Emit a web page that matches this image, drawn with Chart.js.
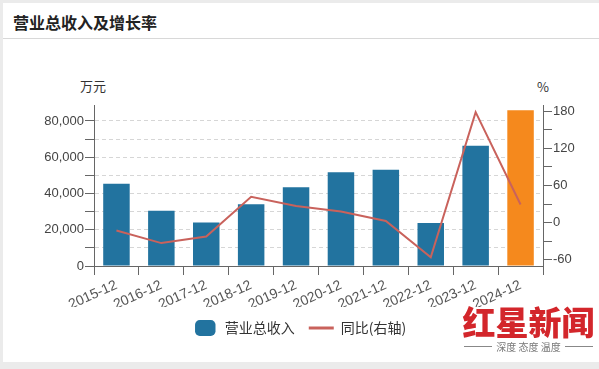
<!DOCTYPE html>
<html><head><meta charset="utf-8">
<script src="https://cdn.jsdelivr.net/npm/chart.js@4"></script>
<style>
html,body{margin:0;padding:0;}
body{width:599px;height:369px;background:#ebebeb;position:relative;overflow:hidden;font-family:"Liberation Sans","Noto Sans CJK SC",sans-serif;}
#card{position:absolute;left:3px;top:3px;width:596px;height:359px;background:#fff;}
#title{position:absolute;left:0;top:0;width:596px;height:35px;border-bottom:1px solid #d8d8d8;}
#title span{position:absolute;left:10px;top:7px;font:bold 16px "Noto Sans CJK SC",sans-serif;color:#222;}
#c{position:absolute;left:0;top:0;}
.unit{position:absolute;font:13px "Noto Sans CJK SC",sans-serif;color:#333;}
#wm{position:absolute;left:460px;top:300px;width:137px;}
#wm .big{font:900 33px "Noto Sans CJK SC",sans-serif;color:#d3262b;letter-spacing:0px;line-height:42px;text-align:center;}
#wm .sub{display:flex;align-items:center;font:10px "Noto Sans CJK SC",sans-serif;color:#777;margin-top:-3px;}
#wm .sub i{flex:1;height:1px;background:#888;margin:0 4px;}
</style></head>
<body>
<div id="card"><div id="title"><span>营业总收入及增长率</span></div></div>
<div class="unit" style="left:80px;top:76px;">万元</div>
<div class="unit" style="left:537px;top:77px;">%</div>
<canvas id="c" width="599" height="369"></canvas>
<div id="wm"><div class="big">红星新闻</div><div class="sub"><i></i>深度 态度 温度<i></i></div></div>
<script>
const categories = ["2015-12","2016-12","2017-12","2018-12","2019-12","2020-12","2021-12","2022-12","2023-12","2024-12"];
const revenue = [45300, 30500, 24000, 34000, 43400, 51700, 53150, 23720, 66380, 85900];
const yoy = [-12.8, -33.0, -22.5, 41.7, 27.0, 18.0, 2.7, -55.8, 178.5, 29.4];
const leftTicks = [0,10000,20000,30000,40000,50000,60000,70000,80000];
const rightTicks = [-60,-30,0,30,60,90,120,150,180];
const seriesNames = ["营业总收入","同比(右轴)"];

const BLUE = "#22739f", ORANGE = "#f5891d", RED = "#c9625c";
const FONT = {family:'"Liberation Sans","Noto Sans CJK SC",sans-serif', size:13};

new Chart(document.getElementById('c'), {
  data: {
    labels: categories,
    datasets: [
      {type:'bar', label:seriesNames[0], data:revenue, yAxisID:'y', order:1,
       backgroundColor: ctx => ctx.dataIndex === categories.length-1 ? ORANGE : BLUE,
       barPercentage:0.59, categoryPercentage:1, pointStyle:'rectRounded'},
      {type:'line', label:seriesNames[1], data:yoy, yAxisID:'y1', order:0,
       borderColor:RED, backgroundColor:RED, borderWidth:2, pointRadius:0, tension:0, pointStyle:'line'}
    ]
  },
  options: {
    responsive:false, animation:false,
    layout:{padding:{top:105, bottom:24, left:0, right:0}},
    plugins:{
      tooltip:{enabled:false},
      legend:{position:'bottom',
        labels:{usePointStyle:true, pointStyleWidth:25, boxHeight:13, padding:14, color:'#333',
          font:{family:'"Noto Sans CJK SC",sans-serif', size:14},
          sort:(a,b)=>a.datasetIndex-b.datasetIndex,
          generateLabels: chart => {
            const items = Chart.defaults.plugins.legend.labels.generateLabels(chart);
            items.forEach(it => { if (it.datasetIndex===0){ it.fillStyle=BLUE; it.strokeStyle=BLUE; it.lineWidth=0; } else { it.lineWidth=3; it.strokeStyle=RED; } });
            return items;
          }}}
    },
    scales:{
      x:{offset:true,
         grid:{drawOnChartArea:false, drawTicks:true, tickLength:9, tickColor:'#666'},
         border:{color:'#666'},
         ticks:{color:'#555', font:{family:FONT.family, size:14}, maxRotation:24, minRotation:24, padding:2, autoSkip:false},
         afterFit: s => { s.height = 41; }},
      y:{position:'left', min:0, max:88800,
         afterBuildTicks: s => { s.ticks = leftTicks.map(v=>({value:v})); },
         afterFit: s => { s.width = 94; },
         grid:{color:'#d6d6d6', drawTicks:true, tickLength:9, tickColor:'#666', tickBorderDash:[]},
         border:{color:'#666', dash:[4,3]},
         ticks:{color:'#444', font:FONT, padding:1,
           callback: v => v % 20000 === 0 ? v.toLocaleString('en-US') : ''}},
      y1:{position:'right', min:-70, max:190,
         afterBuildTicks: s => { s.ticks = rightTicks.map(v=>({value:v})); },
         afterFit: s => { s.width = 56; },
         grid:{drawOnChartArea:false, drawTicks:true, tickLength:9, tickColor:'#666'},
         border:{color:'#666'},
         ticks:{color:'#444', font:FONT, padding:1,
           callback: v => v % 60 === 0 ? String(v) : ''}}
    }
  }
});
</script>
</body></html>
